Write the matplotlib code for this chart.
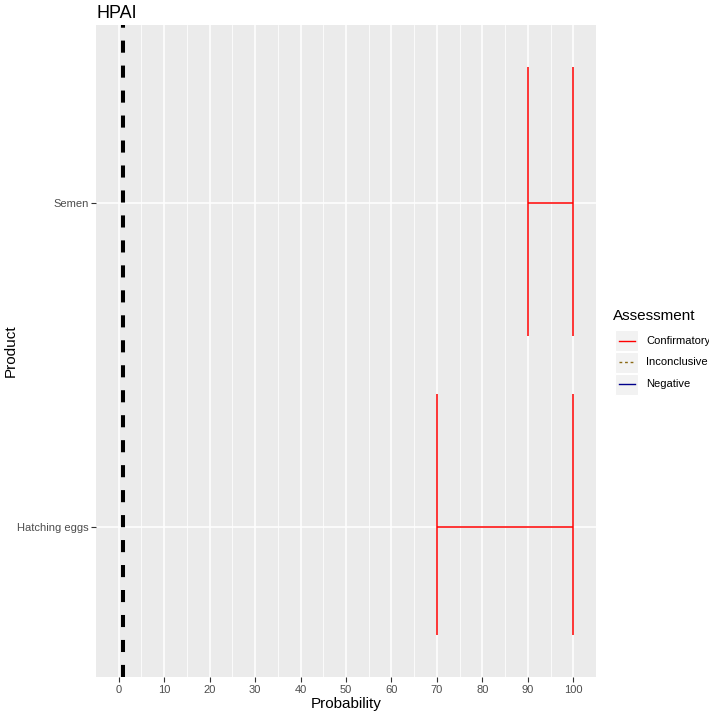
import numpy as np
import matplotlib.pyplot as plt
from matplotlib.lines import Line2D
from matplotlib.patches import Rectangle

plt.rcParams['font.family'] = ['Liberation Sans', 'DejaVu Sans']

# data
products = ['Hatching eggs', 'Semen']
prob_low = [70, 90]
prob_high = [100, 100]
assessment = ['Confirmatory', 'Confirmatory']
cap_lo = [0.667, 1.59]
cap_hi = [1.41, 2.42]
threshold = 1

legend_labels = ['Confirmatory', 'Inconclusive', 'Negative']
legend_colors = ['#FF0000', '#8B6914', '#00008B']
legend_styles = ['-', '--', '-']
colmap = dict(zip(legend_labels, legend_colors))

W, H = 709, 716
fig = plt.figure(figsize=(W/100, H/100), dpi=100)
ax = fig.add_axes([96/W, 1-677/H, 500/W, 652/H])
ax.set_facecolor('#EBEBEB')

ypos = np.arange(1, len(products)+1)
for y, lo, hi, a, c0, c1 in zip(ypos, prob_low, prob_high, assessment, cap_lo, cap_hi):
    col = colmap[a]
    ax.plot([lo, hi], [y, y], color=col, lw=1.1, zorder=3, solid_capstyle='butt')
    ax.plot([lo, lo], [c0, c1], color=col, lw=1.1, zorder=3, solid_capstyle='butt')
    ax.plot([hi, hi], [c0, c1], color=col, lw=1.1, zorder=3, solid_capstyle='butt')

ax.axvline(threshold, color='black', lw=2.9, ls=(0, (3, 3.2)), zorder=4)

ax.set_xlim(-5, 105)
ax.set_ylim(0.537, 2.55)
ax.set_xticks(np.arange(0, 101, 10))
ax.set_xticks(np.arange(5, 100, 10), minor=True)
ax.set_yticks(ypos)
ax.set_yticklabels(products)
ax.grid(which='major', color='white', lw=1.1)
ax.grid(which='minor', axis='x', color='white', lw=0.55)
ax.set_axisbelow(True)
for s in ax.spines.values():
    s.set_visible(False)
ax.tick_params(which='major', length=3.5, width=0.8, color='#333333', labelcolor='#4D4D4D', labelsize=8.0, pad=2)
ax.tick_params(which='minor', length=0)

ax.set_xlabel('Probability', fontsize=11, color='black', labelpad=2)
ax.set_ylabel('Product', fontsize=11, color='black')
ax.yaxis.set_label_coords((18 - 96) / 500, 0.5)
ax.set_title('HPAI', loc='left', fontsize=13, pad=5)

# legend drawn by hand, ggplot style
fig.text(613/W, 1-316/H, 'Assessment', fontsize=11, va='center', ha='left')
key_y = [341, 362.5, 384]
for i, (lab, c, s) in enumerate(zip(legend_labels, legend_colors, legend_styles)):
    yk = key_y[i]
    fig.add_artist(Rectangle(((615)/W, 1-(yk+10.5)/H), 23/W, 21/H, transform=fig.transFigure,
                             facecolor='#F2F2F2', edgecolor='white', lw=0.8))
    fig.add_artist(Line2D([619/W, 635/W], [1-yk/H, 1-yk/H], transform=fig.transFigure,
                          color=c, ls=s, lw=1.0, dashes=(2, 2) if s == '--' else (None, None)))
    fig.text(646/W, 1-yk/H, lab, fontsize=8.0, va='center', ha='left', color='black')

fig.savefig('out.png', dpi=100)
